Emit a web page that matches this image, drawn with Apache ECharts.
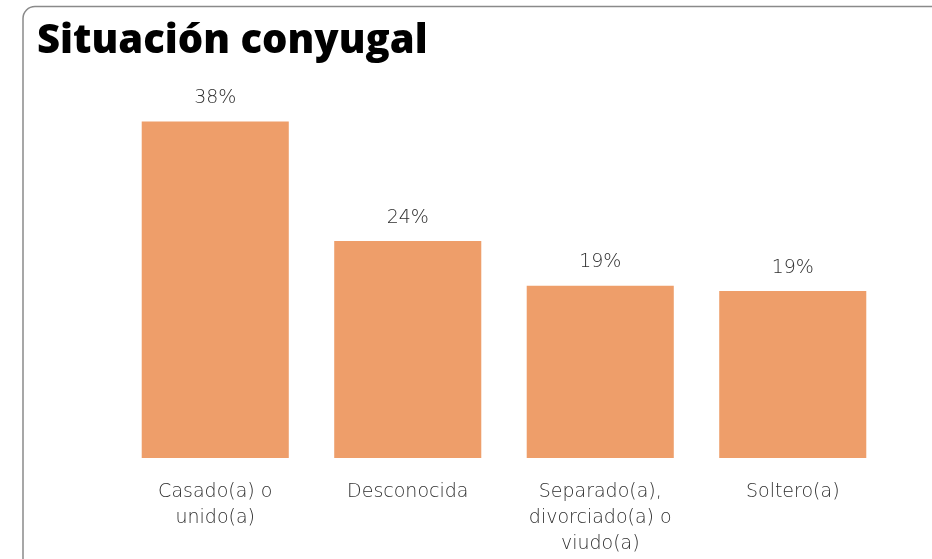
<!DOCTYPE html>
<html>
<head>
<meta charset="utf-8">
<script src="https://cdn.jsdelivr.net/npm/echarts@6/dist/echarts.min.js"></script>
<style>
html,body{margin:0;padding:0;background:#fff;}
#chart{width:932px;height:559px;}
</style>
</head>
<body>
<div id="chart"></div>
<script>
const categories = ["Casado(a) o\nunido(a)", "Desconocida", "Separado(a),\ndivorciado(a) o\nviudo(a)", "Soltero(a)"];
const values = [37.7, 24.3, 19.3, 18.7];
const titleText = "Situación conyugal";

const chart = echarts.init(document.getElementById('chart'), null, {renderer: 'canvas'});
chart.setOption({
  animation: false,
  backgroundColor: '#ffffff',
  title: {
    text: titleText,
    left: 32,
    top: 17,
    textStyle: {fontFamily: 'Open Sans', fontWeight: 800, fontSize: 40, color: '#000'}
  },
  graphic: [{
    type: 'rect',
    shape: {x: 23, y: 6.5, width: 960, height: 570, r: 12},
    style: {fill: 'none', stroke: '#8a8a8a', lineWidth: 1.5},
    silent: true
  }],
  grid: {left: 119, right: 43, top: 101, bottom: 101},
  xAxis: {
    type: 'category',
    data: categories,
    axisLine: {show: false},
    axisTick: {show: false},
    axisLabel: {
      interval: 0,
      margin: 21,
      fontFamily: 'DejaVu Sans',
      fontWeight: 200,
      fontSize: 19,
      lineHeight: 26,
      color: '#2e2e2e',
      verticalAlign: 'top'
    }
  },
  yAxis: {
    type: 'value',
    min: 0,
    max: 40,
    show: false,
    splitLine: {show: false}
  },
  series: [{
    type: 'bar',
    data: values,
    barWidth: '76.4%',
    itemStyle: {color: '#EE9E6A'},
    label: {
      show: true,
      position: 'top',
      distance: 14,
      fontFamily: 'DejaVu Sans',
      fontWeight: 200,
      fontSize: 19,
      color: '#2e2e2e',
      formatter: p => Math.round(p.value) + '%'
    }
  }]
});
</script>
</body>
</html>
